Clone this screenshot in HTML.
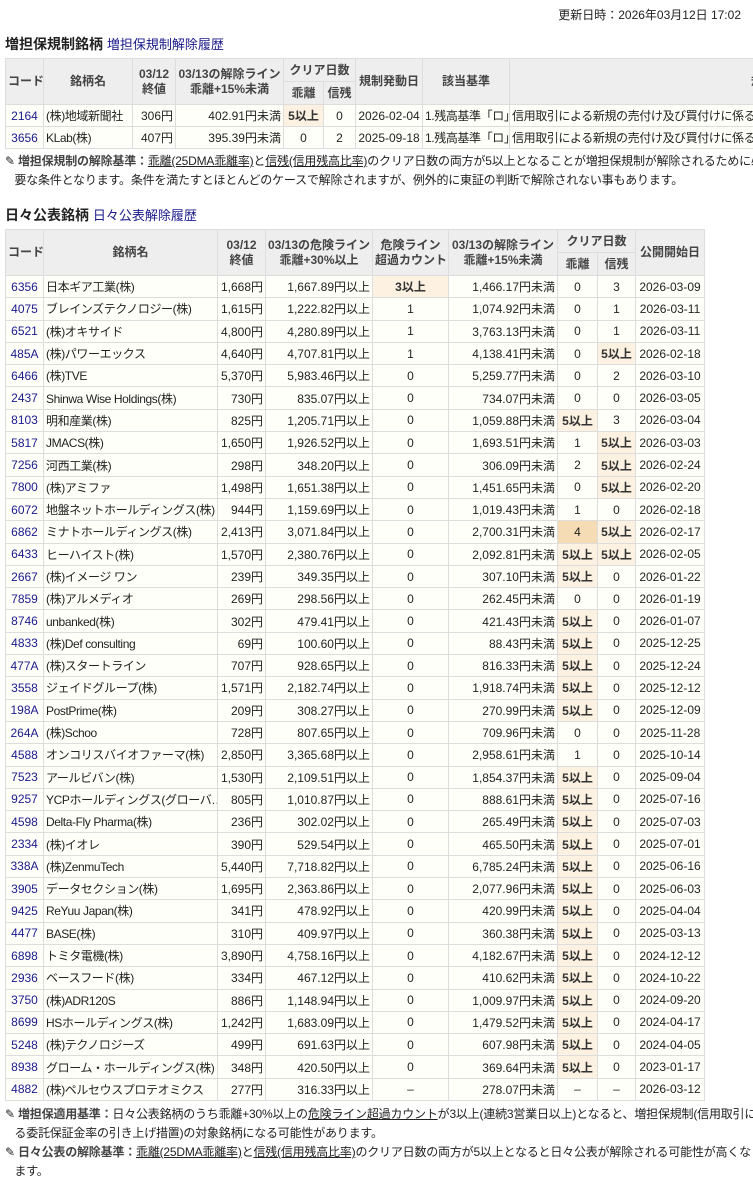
<!DOCTYPE html>
<html><head><meta charset="utf-8">
<style>
body{margin:0;width:753px;height:1178px;overflow:hidden;background:#fff;font-family:"Liberation Sans","Noto Sans CJK JP",sans-serif;font-size:12px;color:#222;position:relative}
.abs{position:absolute}
h2{margin:0;font-size:14px;font-weight:bold;white-space:nowrap}
h2 a{font-weight:normal;font-size:13px;color:#1a1a8c;text-decoration:none}
table{border-collapse:collapse;table-layout:fixed;position:absolute;background:#fffffa}
td,th{border:1px solid #ddd;padding:0 2px;white-space:nowrap;overflow:hidden;font-size:12px}
th{background:#eee;color:#444;font-weight:bold;text-align:center;line-height:15px}
td{text-align:right}
td.c{text-align:center}td.l{text-align:left;letter-spacing:-0.4px}
td a{color:#1a1a8c;text-decoration:none}
.h{background:#fdf1e1;font-weight:bold;color:#333}
.d{background:#f5dcb4}
.note{font-size:12px;line-height:19px;white-space:nowrap;letter-spacing:-0.2px}
.note b{color:#444}
.u{text-decoration:underline}
</style></head><body>
<div class="abs" style="right:12px;top:6px;font-size:12px">更新日時：2026年03月12日 17:02</div>
<h2 class="abs" style="left:5px;top:34px">増担保規制銘柄 <a>増担保規制解除履歴</a></h2>
<table style="left:5px;top:58px;width:760px">
<colgroup><col style="width:38px"><col style="width:89px"><col style="width:43px"><col style="width:108px"><col style="width:40px"><col style="width:32px"><col style="width:67px"><col style="width:87px"><col style="width:256px"></colgroup>
<tr style="height:23px"><th rowspan="2">コード</th><th rowspan="2">銘柄名</th><th rowspan="2">03/12<br>終値</th><th rowspan="2">03/13の解除ライン<br>乖離+15%未満</th><th colspan="2">クリア日数</th><th rowspan="2">規制発動日</th><th rowspan="2">該当基準</th><th rowspan="2" style="text-align:right">規</th></tr>
<tr style="height:23px"><th>乖離</th><th>信残</th></tr>
<tr style="height:22px"><td class="c"><a>2164</a></td><td class="l">(株)地域新聞社</td><td>306円</td><td>402.91円未満</td><td class="c h">5以上</td><td class="c">0</td><td class="c">2026-02-04</td><td class="l">1.残高基準「ロ」</td><td class="l">信用取引による新規の売付け及び買付けに係る</td></tr>
<tr style="height:22px"><td class="c"><a>3656</a></td><td class="l">KLab(株)</td><td>407円</td><td>395.39円未満</td><td class="c">0</td><td class="c">2</td><td class="c">2025-09-18</td><td class="l">1.残高基準「ロ」</td><td class="l">信用取引による新規の売付け及び買付けに係る</td></tr>
</table>
<div class="abs note" style="left:5px;top:152px">✎ <b>増担保規制の解除基準：</b><span class="u">乖離(25DMA乖離率)</span>と<span class="u">信残(信用残高比率)</span>のクリア日数の両方が5以上となることが増担保規制が解除されるために必<br>&nbsp;&nbsp;&nbsp;要な条件となります。条件を満たすとほとんどのケースで解除されますが、例外的に東証の判断で解除されない事もあります。</div>
<h2 class="abs" style="left:5px;top:205px">日々公表銘柄 <a>日々公表解除履歴</a></h2>
<table id="t2" style="left:5px;top:229px;width:699px">
<colgroup><col style="width:38px"><col style="width:174px"><col style="width:48px"><col style="width:107px"><col style="width:76px"><col style="width:109px"><col style="width:40px"><col style="width:38px"><col style="width:69px"></colgroup>
<tr style="height:23px"><th rowspan="2">コード</th><th rowspan="2">銘柄名</th><th rowspan="2">03/12<br>終値</th><th rowspan="2">03/13の危険ライン<br>乖離+30%以上</th><th rowspan="2">危険ライン<br>超過カウント</th><th rowspan="2">03/13の解除ライン<br>乖離+15%未満</th><th colspan="2">クリア日数</th><th rowspan="2">公開開始日</th></tr>
<tr style="height:23px"><th>乖離</th><th>信残</th></tr>
</table>
<div class="abs note" style="left:5px;top:1105px">✎ <b>増担保適用基準：</b>日々公表銘柄のうち乖離+30%以上の<span class="u">危険ライン超過カウント</span>が3以上(連続3営業日以上)となると、増担保規制(信用取引に係<br>&nbsp;&nbsp;&nbsp;る委託保証金率の引き上げ措置)の対象銘柄になる可能性があります。<br>✎ <b>日々公表の解除基準：</b><span class="u">乖離(25DMA乖離率)</span>と<span class="u">信残(信用残高比率)</span>のクリア日数の両方が5以上となると日々公表が解除される可能性が高くなり<br>&nbsp;&nbsp;&nbsp;ます。</div>
<script>
var d=`6356|日本ギア工業(株)|1,668|1,667.89|3以上|1,466.17|0|3|2026-03-09
4075|ブレインズテクノロジー(株)|1,615|1,222.82|1|1,074.92|0|1|2026-03-11
6521|(株)オキサイド|4,800|4,280.89|1|3,763.13|0|1|2026-03-11
485A|(株)パワーエックス|4,640|4,707.81|1|4,138.41|0|5以上|2026-02-18
6466|(株)TVE|5,370|5,983.46|0|5,259.77|0|2|2026-03-10
2437|Shinwa Wise Holdings(株)|730|835.07|0|734.07|0|0|2026-03-05
8103|明和産業(株)|825|1,205.71|0|1,059.88|5以上|3|2026-03-04
5817|JMACS(株)|1,650|1,926.52|0|1,693.51|1|5以上|2026-03-03
7256|河西工業(株)|298|348.20|0|306.09|2|5以上|2026-02-24
7800|(株)アミファ|1,498|1,651.38|0|1,451.65|0|5以上|2026-02-20
6072|地盤ネットホールディングス(株)|944|1,159.69|0|1,019.43|1|0|2026-02-18
6862|ミナトホールディングス(株)|2,413|3,071.84|0|2,700.31|4|5以上|2026-02-17
6433|ヒーハイスト(株)|1,570|2,380.76|0|2,092.81|5以上|5以上|2026-02-05
2667|(株)イメージ ワン|239|349.35|0|307.10|5以上|0|2026-01-22
7859|(株)アルメディオ|269|298.56|0|262.45|0|0|2026-01-19
8746|unbanked(株)|302|479.41|0|421.43|5以上|0|2026-01-07
4833|(株)Def consulting|69|100.60|0|88.43|5以上|0|2025-12-25
477A|(株)スタートライン|707|928.65|0|816.33|5以上|0|2025-12-24
3558|ジェイドグループ(株)|1,571|2,182.74|0|1,918.74|5以上|0|2025-12-12
198A|PostPrime(株)|209|308.27|0|270.99|5以上|0|2025-12-09
264A|(株)Schoo|728|807.65|0|709.96|0|0|2025-11-28
4588|オンコリスバイオファーマ(株)|2,850|3,365.68|0|2,958.61|1|0|2025-10-14
7523|アールビバン(株)|1,530|2,109.51|0|1,854.37|5以上|0|2025-09-04
9257|YCPホールディングス(グローバ…|805|1,010.87|0|888.61|5以上|0|2025-07-16
4598|Delta-Fly Pharma(株)|236|302.02|0|265.49|5以上|0|2025-07-03
2334|(株)イオレ|390|529.54|0|465.50|5以上|0|2025-07-01
338A|(株)ZenmuTech|5,440|7,718.82|0|6,785.24|5以上|0|2025-06-16
3905|データセクション(株)|1,695|2,363.86|0|2,077.96|5以上|0|2025-06-03
9425|ReYuu Japan(株)|341|478.92|0|420.99|5以上|0|2025-04-04
4477|BASE(株)|310|409.97|0|360.38|5以上|0|2025-03-13
6898|トミタ電機(株)|3,890|4,758.16|0|4,182.67|5以上|0|2024-12-12
2936|ベースフード(株)|334|467.12|0|410.62|5以上|0|2024-10-22
3750|(株)ADR120S|886|1,148.94|0|1,009.97|5以上|0|2024-09-20
8699|HSホールディングス(株)|1,242|1,683.09|0|1,479.52|5以上|0|2024-04-17
5248|(株)テクノロジーズ|499|691.63|0|607.98|5以上|0|2024-04-05
8938|グローム・ホールディングス(株)|348|420.50|0|369.64|5以上|0|2023-01-17
4882|(株)ペルセウスプロテオミクス|277|316.33|–|278.07|–|–|2026-03-12`;
var h='';d.split('\n').forEach(function(r){var f=r.split('|');
function c(v){return v.indexOf('以上')>=0?'c h':(v==='4'?'c d':'c');}
h+='<tr style="height:22.3px"><td class="c"><a>'+f[0]+'</a></td><td class="l">'+f[1]+'</td><td>'+f[2]+'円</td><td>'+f[3]+'円以上</td><td class="'+c(f[4])+'">'+f[4]+'</td><td>'+f[5]+'円未満</td><td class="'+c(f[6])+'">'+f[6]+'</td><td class="'+c(f[7])+'">'+f[7]+'</td><td class="c">'+f[8]+'</td></tr>';});
document.getElementById('t2').insertAdjacentHTML('beforeend',h);
</script>
</body></html>
